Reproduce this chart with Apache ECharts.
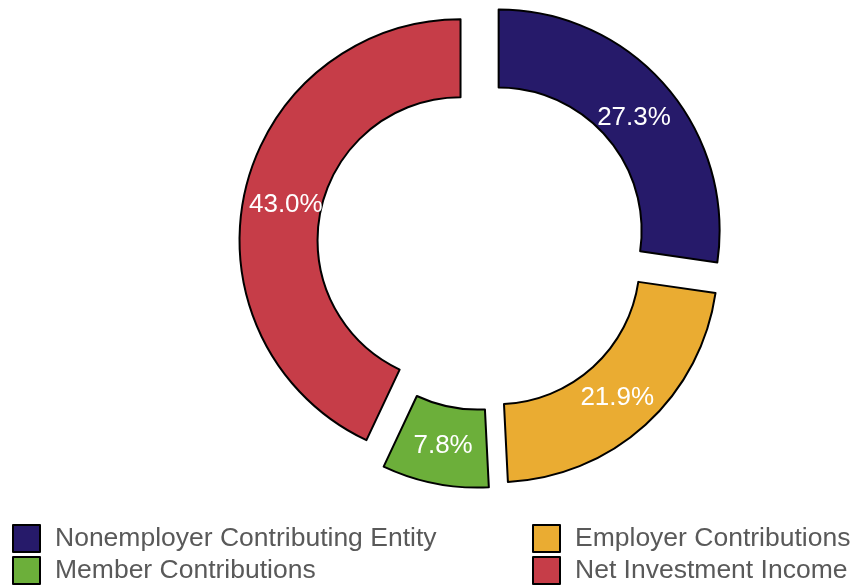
<!DOCTYPE html>
<html>
<head>
<meta charset="utf-8">
<script src="https://cdn.jsdelivr.net/npm/echarts@6/dist/echarts.min.js"></script>
<style>
  html, body { margin: 0; padding: 0; background: #fff; }
  #chart { width: 852px; height: 586px; }
</style>
</head>
<body>
<div id="chart"></div>
<script>
// Revenue sources (share of total, %)
const categories = ['Nonemployer Contributing Entity', 'Employer Contributions', 'Member Contributions', 'Net Investment Income'];
const shares = [27.3, 21.9, 7.8, 43.0];
const colors = ['#261a6a', '#eaac32', '#6caf3a', '#c63d48'];

// Legend layout: two columns, two rows (row-major order of the grid)
const legendGrid = [
  ['Nonemployer Contributing Entity', 'Employer Contributions'],
  ['Member Contributions', 'Net Investment Income']
];

const chart = echarts.init(document.getElementById('chart'), null, { renderer: 'canvas' });

const border = { borderColor: '#000', borderWidth: 2 };
const font = 'Liberation Sans, Arial, sans-serif';

// one legend box per cell so the two columns line up
const legends = [];
legendGrid.forEach((row, r) => {
  row.forEach((name, c) => {
    legends.push({
      data: [name],
      left: c === 0 ? 12 : 532,
      top: 524 + r * 32,
      padding: 0,
      itemWidth: 27,
      itemHeight: 27,
      icon: 'rect',
      selectedMode: false,
      itemStyle: border,
      textStyle: {
        fontFamily: font,
        fontSize: 26.5,
        lineHeight: 27,
        color: '#595959',
        padding: [2, 0, 0, 10]
      }
    });
  });
});

// percentage labels sit a little nearer the hole than the ring's middle
const total = shares.reduce((a, b) => a + b, 0);
let cum = 0;
const labelShift = shares.map(v => {
  const theta = (cum + v / 2) / total * 2 * Math.PI;
  cum += v;
  return { dx: -Math.sin(theta) * 6, dy: Math.cos(theta) * 6 + 4 };
});

chart.setOption({
  animation: false,
  legend: legends,
  series: [{
    type: 'pie',
    center: [482, 245],
    radius: [143, 221],
    startAngle: 90,
    clockwise: true,
    selectedMode: 'multiple',
    selectedOffset: 22,
    avoidLabelOverlap: false,
    emphasis: { disabled: true, scale: false },
    itemStyle: border,
    select: { itemStyle: border },
    label: {
      show: true,
      position: 'inside',
      color: '#fff',
      fontFamily: font,
      fontSize: 26,
      formatter: p => p.value.toFixed(1) + '%'
    },
    labelLayout: p => labelShift[p.dataIndex],
    labelLine: { show: false },
    data: categories.map((name, i) => ({
      name: name,
      value: shares[i],
      selected: true,
      itemStyle: { color: colors[i] }
    }))
  }]
});
</script>
</body>
</html>
